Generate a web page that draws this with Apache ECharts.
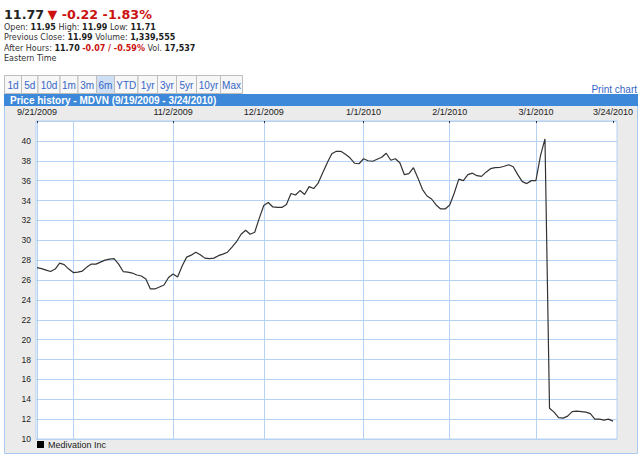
<!DOCTYPE html>
<html><head><meta charset="utf-8">
<script src="https://cdn.jsdelivr.net/npm/echarts@6/dist/echarts.min.js"></script>
<style>html,body{margin:0;padding:0;background:#fff}#c{width:640px;height:456px}</style>
</head><body><div id="c"></div>
<script>
// ---- data ----
const holidays = ['11/26/2009','12/25/2009','1/1/2010','1/18/2010','2/15/2010'];
const firstDay = [2009, 8, 21];   // 9/21/2009
const lastDay  = [2010, 2, 24];   // 3/24/2010
const prices = [
27.25,27.15,27.0,26.85,27.1,27.7,27.55,27.1,26.75,26.8,
26.9,27.3,27.6,27.6,27.8,28.0,28.1,28.15,27.6,26.85,
26.8,26.7,26.5,26.4,26.1,25.1,25.1,25.3,25.5,26.25,
26.6,26.3,27.4,28.3,28.5,28.8,28.55,28.2,28.15,28.2,
28.45,28.6,28.8,29.3,29.85,30.6,31.0,30.6,30.8,32.2,
33.5,33.8,33.35,33.3,33.3,33.6,34.7,34.55,35.0,34.6,
35.4,35.2,35.75,36.8,37.8,38.7,38.95,38.95,38.65,38.3,
37.75,37.7,38.2,38.0,37.95,38.15,38.35,38.75,38.05,38.2,
37.8,36.6,36.7,37.3,36.25,35.1,34.45,34.15,33.55,33.15,
33.15,33.55,34.75,36.15,36.0,36.6,36.75,36.5,36.43,36.85,
37.2,37.3,37.32,37.45,37.6,37.4,36.6,35.9,35.7,36.0,
36.0,38.5,40.2,13.1,12.7,12.15,12.1,12.3,12.75,12.8,
12.75,12.7,12.55,12.0,12.0,11.9,12.0,11.8
];
const labelDates = ['9/21/2009','11/2/2009','12/1/2009','1/4/2010','2/1/2010','3/1/2010','3/24/2010'];
const labelTexts = ['9/21/2009','11/2/2009','12/1/2009','1/1/2010','2/1/2010','3/1/2010','3/24/2010'];
const gridDates  = ['10/1/2009','11/2/2009','12/1/2009','1/4/2010','2/1/2010','3/1/2010'];
const yMin = 10, yMax = 42, yStep = 2;
const seriesName = 'Medivation Inc';
const rangeButtons = ['1d','5d','10d','1m','3m','6m','YTD','1yr','3yr','5yr','10yr','Max'];
const selectedRange = '6m';

// ---- trading-day categories ----
function buildDates(){
  const out = [];
  let t = Date.UTC(firstDay[0], firstDay[1], firstDay[2]);
  const end = Date.UTC(lastDay[0], lastDay[1], lastDay[2]);
  while (t <= end) {
    const d = new Date(t);
    const wd = d.getUTCDay();
    const s = (d.getUTCMonth()+1) + '/' + d.getUTCDate() + '/' + d.getUTCFullYear();
    if (wd !== 0 && wd !== 6 && holidays.indexOf(s) < 0) out.push(s);
    t += 86400000;
  }
  return out;
}
const tradingDates = buildDates();
const labelIdx = labelDates.map(d => tradingDates.indexOf(d));
const gridIdx = gridDates.map(d => tradingDates.indexOf(d));
const seriesData = prices.map((v, i) => [i, v, tradingDates[i]]);

const NARROW = "'Liberation Sans Narrow','Liberation Sans',Arial,sans-serif";
const VERD = "'DejaVu Sans',Verdana,sans-serif";
const gridBlue = '#b5d2f4';

// ---- buttons ----
const btnEdges = [4,21,37.5,59.5,77.5,96,114,137.5,157,176,196,220,242];
const graphics = [];
graphics.push({type:'rect', z:-5, shape:{x:4.5,y:94.5,width:633,height:359}, style:{fill:'#ebebeb', stroke:'#a9c9ee', lineWidth:1}, silent:true});
graphics.push({type:'rect', z:-4, shape:{x:4,y:94,width:634,height:12}, style:{fill:'#3d88d8'}, silent:true});
graphics.push({type:'text', z:5, x:10, y:100, style:{text:'Price history - MDVN (9/19/2009 - 3/24/2010)', fill:'#fff', font:"bold 10px "+NARROW, verticalAlign:'middle'}});
rangeButtons.forEach((b, i) => {
  const x0 = btnEdges[i], x1 = btnEdges[i+1];
  graphics.push({type:'rect', z:-3, shape:{x:x0+0.5,y:75.5,width:x1-x0,height:18}, style:{fill: b===selectedRange ? '#cfe0f4' : '#f7f7f7', stroke:'#bdbdbd', lineWidth:1}});
  graphics.push({type:'text', z:5, x:(x0+x1)/2+0.5, y:85, style:{text:b, fill:'#3566c8', font:"10px "+NARROW, align:'center', verticalAlign:'middle'}});
});
graphics.push({type:'text', z:5, x:637, y:89, style:{text:'Print chart', fill:'#3566c8', font:"10px "+NARROW, align:'right', verticalAlign:'middle'}});
// header
graphics.push({type:'text', z:5, x:4, y:14, style:{
  text:'{p|11.77} {r|▼ -0.22 -1.83%}',
  verticalAlign:'middle',
  rich:{p:{font:"bold 12.7px "+VERD, fill:'#222'}, r:{font:"bold 12.7px "+VERD, fill:'#cc1111'}}
}});
const hdrRich = {n:{font:"8px "+VERD, fill:'#333'}, b:{font:"bold 8px "+VERD, fill:'#222'}, r:{font:"bold 8px "+VERD, fill:'#cc1111'}};
graphics.push({type:'text', z:5, x:4, y:27, style:{text:'{n|Open: }{b|11.95}{n| High: }{b|11.99}{n| Low: }{b|11.71}', verticalAlign:'middle', rich:hdrRich}});
graphics.push({type:'text', z:5, x:4, y:37.5, style:{text:'{n|Previous Close: }{b|11.99}{n| Volume: }{b|1,339,555}', verticalAlign:'middle', rich:hdrRich}});
graphics.push({type:'text', z:5, x:4, y:48, style:{text:'{n|After Hours: }{b|11.70}{n| }{r|-0.07 / -0.59%}{n| Vol. }{b|17,537}', verticalAlign:'middle', rich:hdrRich}});
graphics.push({type:'text', z:5, x:4, y:58.5, style:{text:'{n|Eastern Time}', verticalAlign:'middle', rich:hdrRich}});

const chart = echarts.init(document.getElementById('c'), null, {renderer:'svg'});
const xMin = -0.2205, xMax = 127.88;
chart.setOption({
  animation:false,
  backgroundColor:'#fff',
  graphic: graphics,
  grid:{left:36, right:23, top:121, bottom:17, show:true, backgroundColor:'#fff', borderColor:gridBlue, borderWidth:1},
  legend:{data:[seriesName], left:37, top:440, icon:'rect', itemWidth:7, itemHeight:7, itemGap:4, padding:0,
    textStyle:{fontFamily:NARROW, fontSize:9, color:'#222', padding:[0,0,0,-1]}},
  xAxis:[
    {type:'value', position:'top', min:xMin, max:xMax,
     axisLine:{show:false},
     axisTick:{show:true, inside:true, length:2, customValues:labelIdx, lineStyle:{color:'#333'}},
     axisLabel:{customValues:labelIdx, margin:5, fontFamily:NARROW, fontSize:9, color:'#222',
       formatter:(v)=>{const k=labelIdx.indexOf(Math.round(v)); return k>=0?labelTexts[k]:'';}},
     splitLine:{show:false}},
    {type:'value', position:'top', min:xMin, max:xMax,
     axisLine:{show:false},
     axisTick:{show:false, customValues:gridIdx},
     axisLabel:{show:false, customValues:gridIdx},
     splitLine:{show:true, lineStyle:{color:gridBlue, width:1}}}
  ],
  yAxis:{type:'value', min:yMin, max:yMax, interval:yStep,
    axisLine:{show:true, lineStyle:{color:gridBlue}},
    axisTick:{show:false},
    axisLabel:{fontFamily:NARROW, fontSize:8.5, color:'#222', margin:5, formatter:(v)=> v===yMax ? '' : String(v)},
    splitLine:{show:true, lineStyle:{color:gridBlue, width:1}}},
  series:[{name:seriesName, type:'line', xAxisIndex:0, data:seriesData, showSymbol:false, symbol:'none',
    lineStyle:{color:'#333', width:1.2}, itemStyle:{color:'#000'}}]
});
</script></body></html>
